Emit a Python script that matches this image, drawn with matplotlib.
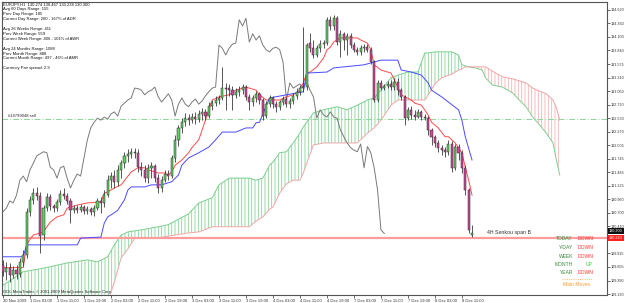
import numpy as np
import matplotlib
matplotlib.use("Agg")
import matplotlib.pyplot as plt

plt.rcParams['font.family'] = ['Liberation Sans', 'DejaVu Sans']
plt.rcParams['hatch.linewidth'] = 0.6

# EURJPY H1 candles, bar 0 = 30 Nov 19:00
opens = [129.70, 129.56, 129.64, 129.50, 129.59, 129.52, 129.75, 129.89, 130.72, 130.95,
         131.08, 131.02, 130.27, 130.79, 131.00, 130.83, 130.79, 130.91, 131.06, 131.02,
         130.93, 130.75, 130.79, 130.75, 130.81, 130.73, 130.77, 130.72, 130.79, 130.93,
         130.89, 131.04, 131.33, 131.41, 131.30, 131.53, 131.66, 131.80, 131.84, 131.88,
         131.86, 131.58, 131.53, 131.37, 131.57, 131.60, 131.37, 131.18, 131.33, 131.45,
         131.41, 131.76, 132.11, 132.34, 132.45, 132.53, 132.49, 132.55, 132.51, 132.61,
         132.65, 132.57, 132.76, 132.82, 132.88, 132.92, 133.11, 133.11, 133.07, 132.98,
         133.04, 133.07, 133.13, 132.94, 132.84, 132.92, 133.00, 132.88, 132.57, 132.80,
         132.92, 132.80, 132.75, 132.84, 132.90, 132.80, 132.86, 132.96, 133.04, 133.11,
         133.13, 133.98, 133.88, 133.75, 133.88, 133.96, 133.98, 134.43, 134.31, 134.46,
         134.00, 134.16, 134.04, 134.12, 133.94, 133.85, 133.81, 133.88, 133.90, 133.85,
         133.61, 132.88, 133.21, 133.11, 133.15, 133.19, 133.13, 133.23, 133.07, 132.94,
         132.53, 132.69, 132.59, 132.55, 132.65, 132.55, 132.53, 132.30, 132.17, 132.05,
         131.96, 131.91, 131.88, 132.03, 131.57, 131.98, 131.86, 131.57, 131.14, 130.274]
highs = [129.79, 129.75, 129.72, 129.68, 129.70, 129.83, 129.98, 130.79, 131.02, 131.18,
         131.20, 131.10, 130.85, 131.08, 131.06, 130.87, 130.97, 131.14, 131.18, 131.08,
         130.99, 130.85, 130.85, 130.87, 130.85, 130.83, 130.81, 130.85, 130.99, 131.00,
         131.14, 131.43, 131.49, 131.53, 131.62, 131.72, 131.88, 131.94, 131.96, 131.96,
         131.94, 131.68, 131.62, 131.64, 131.68, 131.64, 131.45, 131.41, 131.53, 131.53,
         131.82, 132.20, 132.40, 132.53, 132.63, 132.61, 132.63, 132.65, 132.69, 132.73,
         132.71, 132.84, 132.88, 132.96, 132.98, 133.52, 133.21, 133.19, 133.15, 133.11,
         133.15, 133.19, 133.17, 133.00, 132.98, 133.05, 133.04, 132.92, 132.86, 132.98,
         132.96, 132.86, 132.88, 132.96, 132.94, 132.92, 133.02, 133.11, 133.17, 134.29,
         133.98, 134.17, 134.04, 133.94, 134.04, 134.04, 134.48, 134.50, 134.52, 134.50,
         134.23, 134.19, 134.17, 134.17, 134.00, 133.90, 133.94, 133.96, 133.96, 133.90,
         133.65, 133.27, 133.27, 133.19, 133.25, 133.27, 133.31, 133.31, 133.11, 132.98,
         132.75, 132.76, 132.69, 132.71, 132.69, 132.61, 132.57, 132.34, 132.20, 132.11,
         132.01, 131.98, 132.11, 132.09, 132.03, 132.03, 131.91, 131.62, 131.18, 130.467]
lows = [129.48, 129.40, 129.36, 129.44, 129.42, 129.46, 129.68, 129.83, 130.64, 130.87,
        130.95, 129.92, 130.17, 130.73, 130.75, 130.72, 130.73, 130.85, 130.97, 130.87,
        130.51, 130.70, 130.70, 130.72, 130.68, 130.68, 130.66, 130.64, 130.75, 130.70,
        130.81, 131.00, 131.18, 131.18, 131.22, 131.37, 131.57, 131.68, 131.76, 131.76,
        131.49, 131.41, 131.30, 131.28, 131.37, 131.30, 131.08, 131.10, 131.30, 131.33,
        131.37, 131.68, 132.00, 132.24, 132.38, 132.40, 132.44, 132.42, 132.45, 132.49,
        132.49, 132.53, 132.69, 132.76, 132.80, 132.88, 132.69, 132.96, 132.69, 132.92,
        132.96, 133.00, 132.88, 132.69, 132.76, 132.84, 132.80, 132.49, 132.53, 132.75,
        132.73, 132.65, 132.69, 132.78, 132.75, 132.73, 132.80, 132.90, 132.98, 133.04,
        133.07, 133.81, 133.69, 133.71, 133.81, 133.88, 133.94, 134.23, 134.23, 133.94,
        133.71, 133.85, 133.75, 133.88, 133.81, 133.75, 133.75, 133.81, 133.81, 133.58,
        132.84, 132.84, 133.07, 133.07, 133.11, 133.07, 133.07, 132.98, 132.88, 132.40,
        132.49, 132.51, 132.49, 132.53, 132.49, 132.49, 132.20, 132.01, 131.98, 131.88,
        131.82, 131.78, 131.82, 131.49, 131.53, 131.72, 131.47, 131.04, 130.31, 130.238]
closes = [129.56, 129.64, 129.50, 129.59, 129.52, 129.75, 129.89, 130.72, 130.95, 131.08,
          131.02, 130.26, 130.79, 131.00, 130.83, 130.79, 130.91, 131.06, 131.02, 130.93,
          130.75, 130.79, 130.75, 130.81, 130.73, 130.77, 130.72, 130.79, 130.93, 130.89,
          131.04, 131.33, 131.41, 131.30, 131.53, 131.66, 131.80, 131.84, 131.88, 131.86,
          131.58, 131.53, 131.37, 131.57, 131.60, 131.37, 131.18, 131.33, 131.45, 131.41,
          131.76, 132.11, 132.34, 132.45, 132.53, 132.49, 132.55, 132.51, 132.61, 132.65,
          132.57, 132.76, 132.82, 132.88, 132.92, 133.11, 133.10, 133.07, 132.98, 133.04,
          133.07, 133.13, 132.94, 132.84, 132.92, 133.00, 132.88, 132.57, 132.80, 132.92,
          132.80, 132.75, 132.84, 132.90, 132.80, 132.86, 132.96, 133.04, 133.11, 133.13,
          133.94, 133.88, 133.75, 133.88, 133.96, 133.98, 134.43, 134.31, 134.46, 134.00,
          134.16, 134.04, 134.12, 133.94, 133.85, 133.81, 133.88, 133.90, 133.85, 133.61,
          132.88, 133.21, 133.11, 133.15, 133.19, 133.13, 133.23, 133.07, 132.94, 132.53,
          132.69, 132.59, 132.55, 132.65, 132.55, 132.53, 132.30, 132.17, 132.05, 131.96,
          131.91, 131.88, 132.03, 131.57, 131.98, 131.86, 131.57, 131.14, 130.37, 130.300]

# ichimoku lines (bar index, price)
tenkan_bar = [0, 6, 7, 8, 9, 12, 13, 14, 16, 18, 19, 22, 25, 29, 30, 31, 33, 35, 38, 39,
              40, 42, 43, 46, 48, 49, 50, 51, 53, 55, 56, 58, 60, 61, 62, 64, 67, 69, 72, 73,
              75, 76, 78, 82, 84, 86, 88, 89, 90, 91, 93, 95, 96, 97, 98, 100, 105, 106, 108, 109,
              110, 112, 115, 117, 118, 121, 122, 124, 126, 127, 129, 131, 132, 134, 136, 137, 138, 139]
tenkan = [129.64, 129.64, 130.08, 130.19, 130.27, 130.33, 130.43, 130.52, 130.62, 130.66,
          130.79, 130.85, 130.89, 130.91, 131.08, 131.10, 131.18, 131.24, 131.49, 131.53,
          131.57, 131.57, 131.53, 131.47, 131.47, 131.43, 131.49, 131.62, 131.72, 131.86,
          131.96, 132.11, 132.49, 132.69, 132.88, 132.94, 132.98, 133.07, 133.13, 133.11,
          133.07, 132.98, 132.88, 132.88, 132.94, 132.98, 133.07, 133.21, 133.40, 133.42,
          133.52, 133.69, 133.85, 133.90, 134.00, 134.08, 134.08, 134.04, 133.98, 133.85,
          133.56, 133.46, 133.40, 133.13, 132.98, 132.88, 132.82, 132.78, 132.59, 132.45,
          132.34, 132.17, 132.17, 132.05, 131.86, 131.58, 131.33, 131.04]
kijun_bar = [0, 6, 7, 22, 23, 29, 30, 31, 33, 34, 36, 37, 38, 42, 44, 47, 50, 52, 53, 55,
             58, 61, 63, 65, 69, 72, 74, 75, 76, 79, 89, 90, 96, 98, 107, 112, 117, 118, 121, 124,
             126, 127, 130, 132, 135, 136, 137, 139]
kijun = [129.85, 129.85, 130.08, 130.08, 130.21, 130.23, 130.50, 130.62, 130.70, 130.75,
         130.95, 131.14, 131.20, 131.20, 131.24, 131.24, 131.30, 131.43, 131.62, 131.76,
         131.86, 131.97, 132.11, 132.26, 132.26, 132.34, 132.34, 132.44, 132.45, 132.92,
         133.04, 133.40, 133.42, 133.50, 133.56, 133.65, 133.65, 133.46, 133.42, 133.36,
         133.21, 133.07, 132.94, 132.84, 132.69, 132.49, 132.17, 131.72]
cloud_bar = [0, 6, 12, 19, 25, 28, 31, 33, 35, 37, 39, 41, 46, 49, 55, 58, 62, 64, 67, 73,
             75, 77, 79, 80, 82, 84, 86, 88, 89, 90, 92, 95, 99, 102, 105, 108, 110, 112, 115, 117,
             120, 123, 124, 125, 126, 128, 130, 133, 135, 136, 137, 138, 140, 142, 143, 145, 148, 151, 153, 155,
             157, 159, 161, 163, 164, 165]
span_a = [129.30, 129.56, 129.63, 129.73, 129.79, 129.75, 129.85, 130.08, 130.27, 130.33,
          130.35, 130.37, 130.43, 130.47, 130.68, 130.89, 130.99, 131.24, 131.37, 131.37,
          131.33, 131.37, 131.62, 131.68, 131.86, 131.88, 132.05, 132.24, 132.36, 132.45,
          132.63, 132.69, 132.75, 132.69, 132.78, 132.88, 132.92, 133.07, 133.31, 133.36,
          133.42, 133.42, 133.61, 133.79, 133.79, 133.81, 133.81, 133.81, 133.75, 133.56,
          133.54, 133.52, 133.50, 133.46, 133.31, 133.17, 133.13, 133.02, 132.88, 132.75,
          132.55, 132.40, 132.24, 132.05, 131.72, 131.43]
span_b = [129.01, 129.01, 128.97, 128.94, 128.92, 128.92, 128.97, 129.36, 129.83, 130.00,
          130.21, 130.21, 130.21, 130.25, 130.31, 130.33, 130.43, 130.43, 130.43, 130.43,
          130.54, 130.62, 130.77, 130.81, 131.08, 131.26, 131.33, 131.33, 131.47, 131.66,
          132.01, 132.05, 132.05, 132.05, 132.05, 132.24, 132.34, 132.49, 132.78, 132.88,
          132.88, 132.88, 132.88, 132.88, 132.98, 133.19, 133.31, 133.38, 133.46, 133.48,
          133.52, 133.52, 133.52, 133.52, 133.52, 133.44, 133.33, 133.29, 133.25, 133.21,
          133.11, 133.05, 133.00, 132.88, 132.73, 132.49]

senkou_4h = 130.22
sell_level = 132.51
bid = 130.300

yticks = [134.620, 134.360, 134.100, 133.840, 133.575, 133.310, 133.050, 132.790, 132.530,
          132.270, 132.005, 131.745, 131.485, 131.225, 130.960, 130.700, 130.440, 130.180,
          129.915, 129.655, 129.390, 129.130]
xtick_bars = [0, 8, 16, 24, 32, 40, 48, 56, 64, 72, 80, 88, 96, 104, 112, 120, 128, 136]
xtick_text = ["30 Nov 2009", "1 Dec 03:00", "1 Dec 11:00", "1 Dec 19:00", "2 Dec 03:00",
              "2 Dec 11:00", "2 Dec 19:00", "3 Dec 03:00", "3 Dec 11:00", "3 Dec 19:00",
              "4 Dec 03:00", "4 Dec 11:00", "4 Dec 19:00", "7 Dec 03:00", "7 Dec 11:00",
              "7 Dec 19:00", "8 Dec 03:00", "8 Dec 11:00"]

info_lines = ["EURJPY,H1  130.274 130.467 130.238 130.300",
              "Avg 60 Days Range: 155",
              "Prev Day Range: 185",
              "Current Day Range: 260 - 167% of ADR",
              "",
              "Avg 26 Weeks Range: 411",
              "Prev Week Range: 559",
              "Current Week Range: 406 - 101% of AWR",
              "",
              "Avg 24 Months Range: 1088",
              "Prev Month Range: 888",
              "Current Month Range: 497 - 46% of AMR",
              "",
              "Currency Pair spread: 2.9"]
trend_names = ["TODAY", "Y-DAY", "WEEK", "MONTH", "YEAR"]
trend_dirs = ["DOWN", "DOWN", "DOWN", "UP", "DOWN"]

W, H = 625, 303
fig = plt.figure(figsize=(W / 100, H / 100), dpi=100)
ax = fig.add_axes([2 / W, 8 / H, 605 / W, 293 / H])
ax.set_xlim(-0.3, 179.0)
ax.set_ylim(129.111, 134.774)

o = np.array(opens)
h = np.array(highs)
l = np.array(lows)
c = np.array(closes)
x = np.arange(len(c))

# cloud
cb = np.array(cloud_bar)
sa = np.array(span_a)
sb = np.array(span_b)
ax.fill_between(cb, sa, sb, where=sa >= sb, interpolate=True, facecolor='none',
                edgecolor='#86d49a', hatch='|||||', lw=0, zorder=1)
ax.fill_between(cb, sa, sb, where=sb >= sa, interpolate=True, facecolor='none',
                edgecolor='#f5b3b3', hatch='|||||', lw=0, zorder=1)
ax.plot(cb, sa, color='#7ccf8e', lw=0.7, zorder=2)
ax.plot(cb, sb, color='#f2a6a6', lw=0.7, zorder=2)

# horizontal levels
ax.axhline(senkou_4h, color='#ff9d9d', lw=1.6, zorder=2)
ax.axhline(sell_level, color='#8fd49a', lw=0.7, dashes=(6, 2, 1, 2), zorder=2)

# chikou, tenkan, kijun
ax.plot(x[:-26], c[26:], color='#7a7a7a', lw=0.7, zorder=3)
ax.plot(tenkan_bar, tenkan, color='#ff4a4a', lw=0.7, zorder=3)
ax.plot(kijun_bar, kijun, color='#4a4aff', lw=0.7, zorder=3)

# candles
bull = c >= o
ax.vlines(x, l, h, color='#3a3a3a', lw=0.6, zorder=4)
body = np.maximum(np.abs(c - o), 0.012)
ax.bar(x, body, bottom=np.minimum(o, c), width=0.62,
       color=np.where(bull, '#5fcf5f', '#d0469a'), edgecolor='#2a2a2a', lw=0.35, zorder=5)

# axes look
for side in ['left', 'right', 'top', 'bottom']:
    ax.spines[side].set_color('#555555')
    ax.spines[side].set_linewidth(0.8)
ax.yaxis.tick_right()
ax.set_yticks(yticks)
ax.set_yticklabels([f'{v:.3f}' for v in yticks])
ax.tick_params(axis='y', labelsize=2.7, length=2, width=0.5, pad=0.8, colors='#333333')
ax.set_xticks(xtick_bars)
ax.set_xticklabels(xtick_text)
ax.tick_params(axis='x', labelsize=3.0, length=2, width=0.5, pad=1.0, colors='#333333')
for lbl in ax.get_xticklabels():
    lbl.set_horizontalalignment('left')

# price boxes on the scale
ax.annotate(f'{bid:.3f}', xy=(1.0, bid + 0.05), xycoords=('axes fraction', 'data'),
            xytext=(1.5, 0), textcoords='offset points', fontsize=2.7, color='white',
            va='center', ha='left', annotation_clip=False,
            bbox=dict(boxstyle='square,pad=0.25', fc='#111111', ec='none'))
ax.annotate(f'{senkou_4h:.3f}', xy=(1.0, senkou_4h), xycoords=('axes fraction', 'data'),
            xytext=(1.5, 0), textcoords='offset points', fontsize=2.7, color='white',
            va='center', ha='left', annotation_clip=False,
            bbox=dict(boxstyle='square,pad=0.25', fc='#ff2020', ec='none'))

# info text top left
for k, line in enumerate(info_lines):
    if line:
        fig.text(3 / W, 1 - (4.3 + 4.92 * k) / H, line, fontsize=3.0, color='#111111',
                 va='center', ha='left')

ax.text(1.5, sell_level + 0.06, "#14799048 sell", fontsize=3.0, color='#222222',
        va='center', ha='left')
ax.text(143.5, senkou_4h + 0.1, "4H Senkou span B", fontsize=3.8, color='#333333',
        va='center', ha='left')
fig.text(3 / W, 1 - 292 / H, "ODL MetaTrader, © 2001-2009 MetaQuotes Software Corp.",
         fontsize=3.0, color='#222222', va='center', ha='left')

# trend panel
for k, (name, d) in enumerate(zip(trend_names, trend_dirs)):
    yy = 1 - (239 + 8.5 * k) / H
    fig.text(573 / W, yy, name, fontsize=3.6, color='#3d8a3d', ha='right', va='center')
    fig.text(593 / W, yy, d, fontsize=3.6, color='#33cc33' if d == 'UP' else '#ff3333',
             ha='right', va='center')
fig.add_artist(plt.Line2D([562 / W, 593 / W], [1 - 279 / H] * 2, color='#ffa040', lw=0.6,
                          linestyle=':'))
fig.text(577 / W, 1 - 284.5 / H, "Main Moves", fontsize=3.6, color='#ff9933', ha='center', va='center')

fig.savefig('out.png', dpi=100, facecolor='white')
